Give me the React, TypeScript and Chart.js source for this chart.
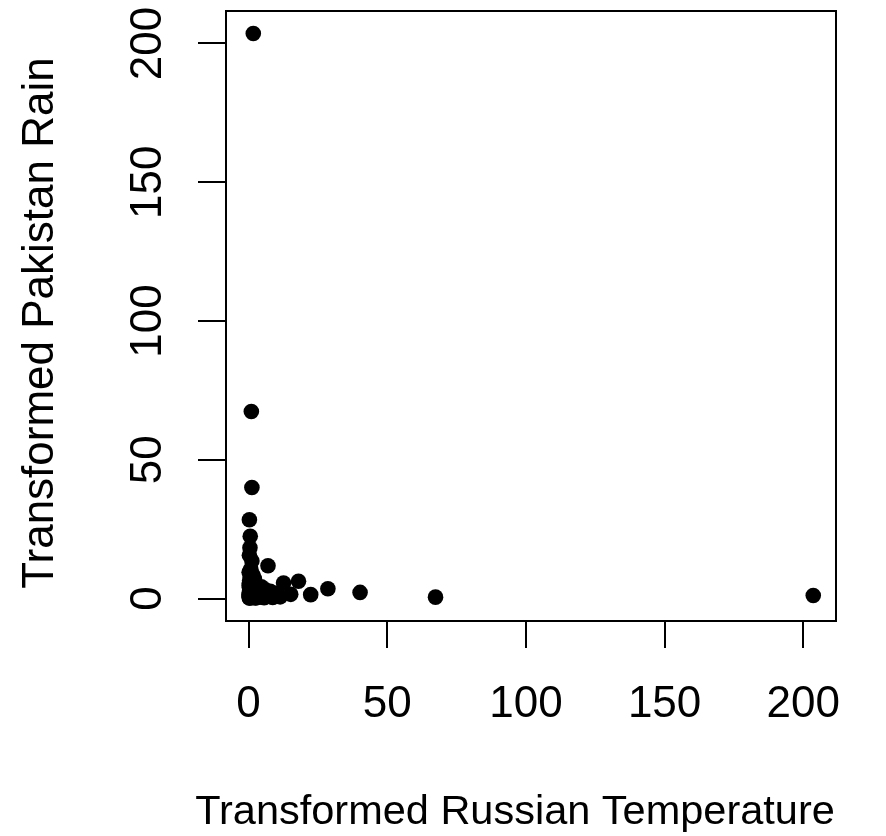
import React, { useEffect, useRef } from "react";
import { Chart, registerables } from "chart.js";

Chart.register(...registerables);

// Transformed Russian Temperature (x) and Transformed Pakistan Rain (y)
const russianTemp: number[] = [
  1.7, 203.6, 1.0, 67.4, 1.2, 40.2, 0.3, 28.6, 0.6, 22.4, 18.0, 15.2, 12.6, 7.0,
  0.5, 0.3, 1.2, 0.8, 0.2, 1.5, 0.6, 2.1, 0.4, 1.0, 0.3, 2.6, 0.7,
  10.7, 9.6, 8.7, 7.8, 7.1, 6.6, 6.1, 5.6, 5.2, 4.9, 4.6, 4.3,
  4.0, 3.8, 3.6, 3.4, 3.2, 3.0, 2.9, 2.7, 2.6, 2.4, 2.3, 2.2, 2.0, 1.9, 1.8, 1.7,
  1.6, 1.55, 1.45, 1.4, 1.35, 1.3, 1.2, 1.15, 1.1, 1.05, 0.95, 0.9, 0.87, 0.83,
  0.78, 0.74, 0.7, 0.66, 0.63, 0.6, 0.57, 0.54, 0.51, 0.48, 0.45, 0.42, 0.4,
  0.37, 0.35, 0.33, 0.31, 0.29, 0.27, 0.25, 0.23, 0.21, 0.19,
  3.1, 2.5, 4.4, 3.5, 5.4, 6.3, 8.2, 9.1, 2.8, 11.4,
];
const pakistanRain: number[] = [
  203.6, 1.1, 67.4, 0.5, 40.0, 2.2, 28.4, 3.5, 22.4, 1.4, 6.2, 1.5, 5.6, 11.8,
  18.3, 15.6, 13.5, 10.6, 9.5, 8.6, 7.8, 7.1, 6.6, 6.1, 5.6, 5.2, 4.9,
  0.9, 1.9, 0.4, 2.6, 1.2, 0.7, 3.1, 0.3, 1.6, 2.3, 4.2, 0.6,
  1.0, 3.6, 0.5, 2.0, 1.3, 0.8, 4.0, 1.8, 0.3, 2.7, 1.1, 3.3, 0.6, 1.5, 2.4, 0.9,
  3.8, 0.4, 1.7, 1.2, 2.9, 0.7, 1.9, 4.4, 0.35, 1.4, 2.2, 0.95, 3.0, 0.5,
  1.6, 2.5, 0.28, 1.05, 3.5, 0.8, 1.3, 2.0, 0.45, 1.75, 0.6, 2.8, 1.15,
  0.25, 1.5, 0.85, 3.9, 0.55, 2.1, 0.2, 1.0, 4.7, 1.35,
  2.6, 0.22, 2.5, 1.55, 0.95, 1.45, 0.75, 1.1, 3.0, 0.6,
];
const tickValues: number[] = [0, 50, 100, 150, 200];
const tickLabels: string[] = ["0", "50", "100", "150", "200"];
const xTitle = "Transformed Russian Temperature";
const yTitle = "Transformed Pakistan Rain";

const FONT = '"Liberation Sans", Arial, Helvetica, sans-serif';

export default function App() {
  const ref = useRef<HTMLCanvasElement | null>(null);

  useEffect(() => {
    document.body.style.margin = "0";
    const canvas = ref.current;
    if (!canvas) return;
    const points = russianTemp.map((x, i) => ({ x, y: pakistanRain[i] }));

    const rPlot = {
      id: "rPlot",
      afterDraw(chart: any) {
        const ctx = chart.ctx as CanvasRenderingContext2D;
        const a = chart.chartArea;
        const xs = chart.scales.x;
        const ys = chart.scales.y;
        ctx.save();
        ctx.strokeStyle = "#000";
        ctx.lineWidth = 2;
        ctx.strokeRect(a.left, a.top, a.right - a.left, a.bottom - a.top);
        ctx.fillStyle = "#000";
        ctx.font = `44px ${FONT}`;
        ctx.textAlign = "center";
        ctx.textBaseline = "alphabetic";
        xs.ticks.forEach((t: any, i: number) => {
          ctx.fillText(tickLabels[i], xs.getPixelForValue(t.value), 717);
        });
        ys.ticks.forEach((t: any, i: number) => {
          ctx.save();
          ctx.translate(161, ys.getPixelForValue(t.value));
          ctx.rotate(-Math.PI / 2);
          ctx.fillText(tickLabels[i], 0, 0);
          ctx.restore();
        });
        ctx.font = `41.5px ${FONT}`;
        ctx.fillText(xTitle, 515, 824);
        ctx.font = `44px ${FONT}`;
        ctx.save();
        ctx.translate(53, 323);
        ctx.rotate(-Math.PI / 2);
        ctx.fillText(yTitle, 0, 0);
        ctx.restore();
        ctx.restore();
      },
    };

    const chart = new Chart(canvas, {
      type: "scatter",
      data: {
        datasets: [
          {
            data: points,
            backgroundColor: "#000",
            borderWidth: 0,
            pointRadius: 7.8,
            pointHoverRadius: 7.8,
          },
        ],
      },
      options: {
        responsive: false,
        animation: false,
        events: [],
        layout: { padding: { top: 11, right: 50, left: 0, bottom: 0 } },
        plugins: { legend: { display: false }, tooltip: { enabled: false } },
        scales: {
          x: {
            type: "linear",
            position: "bottom",
            min: -8.14,
            max: 211.8,
            afterBuildTicks: (s: any) => {
              s.ticks = tickValues.map((v) => ({ value: v }));
            },
            afterFit: (s: any) => {
              s.height = 215;
            },
            ticks: { display: false },
            border: { display: false },
            grid: {
              drawOnChartArea: false,
              drawTicks: true,
              tickLength: 27,
              color: "#000",
              lineWidth: 2,
            },
          },
          y: {
            type: "linear",
            position: "left",
            min: -8.1,
            max: 211.7,
            afterBuildTicks: (s: any) => {
              s.ticks = tickValues.map((v) => ({ value: v }));
            },
            afterFit: (s: any) => {
              s.width = 226;
            },
            ticks: { display: false },
            border: { display: false },
            grid: {
              drawOnChartArea: false,
              drawTicks: true,
              tickLength: 28,
              color: "#000",
              lineWidth: 2,
            },
          },
        },
      },
      plugins: [rPlot],
    });
    return () => chart.destroy();
  }, []);

  return (
    <div style={{ position: "absolute", left: 0, top: 0, width: 886, height: 836, background: "#fff" }}>
      <canvas ref={ref} width={886} height={836} style={{ display: "block" }} />
    </div>
  );
}
